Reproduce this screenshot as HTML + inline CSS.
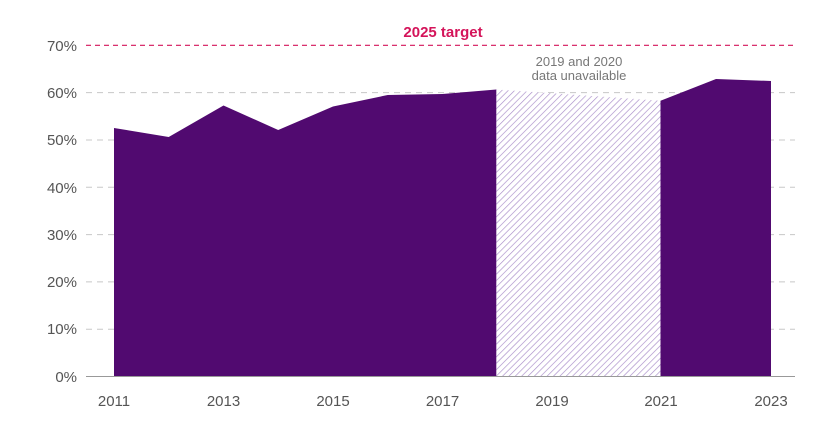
<!DOCTYPE html>
<html><head><meta charset="utf-8"><style>
html,body{margin:0;padding:0;background:#fff;}
svg{display:block;font-family:"Liberation Sans",sans-serif;}
</style></head><body>
<svg width="840" height="433" viewBox="0 0 840 433">
<defs>
<pattern id="h" patternUnits="userSpaceOnUse" width="4.5" height="4.5" patternTransform="rotate(45)">
<rect width="4.5" height="4.5" fill="#fff"/>
<line x1="0" y1="0" x2="0" y2="4.5" stroke="#a88cc9" stroke-width="1.3"/>
</pattern>
</defs>
<g stroke="#c8c8c8" stroke-width="1" stroke-dasharray="6,5">
<line x1="86" x2="795" y1="92.6" y2="92.6"/>
<line x1="86" x2="795" y1="140" y2="140"/>
<line x1="86" x2="795" y1="187.3" y2="187.3"/>
<line x1="86" x2="795" y1="234.6" y2="234.6"/>
<line x1="86" x2="795" y1="281.9" y2="281.9"/>
<line x1="86" x2="795" y1="329.2" y2="329.2"/>
</g>
<line x1="86" x2="795" y1="45.3" y2="45.3" stroke="#d4145a" stroke-width="1.2" stroke-dasharray="5,4"/>
<text x="443" y="37" fill="#d4145a" font-size="15" font-weight="bold" text-anchor="middle">2025 target</text>
<polygon fill="url(#h)" points="496.3,89.5 660.5,100.7 660.5,376.5 496.3,376.5"/>
<polygon fill="#510a70" points="114,128 168.7,137 223.5,105.5 278.2,130 333,106.5 387.7,95 442.5,94 496.3,89.5 496.3,376.5 114,376.5"/>
<polygon fill="#510a70" points="660.5,100.7 716,79 771,81 771,376.5 660.5,376.5"/>
<line x1="86" x2="795" y1="376.5" y2="376.5" stroke="#999" stroke-width="1"/>
<g fill="#555" font-size="15" text-anchor="end">
<text x="77" y="51">70%</text>
<text x="77" y="98">60%</text>
<text x="77" y="145">50%</text>
<text x="77" y="193">40%</text>
<text x="77" y="240">30%</text>
<text x="77" y="287">20%</text>
<text x="77" y="334">10%</text>
<text x="77" y="382">0%</text>
</g>
<g fill="#555" font-size="15" text-anchor="middle">
<text x="114" y="406">2011</text>
<text x="223.5" y="406">2013</text>
<text x="333" y="406">2015</text>
<text x="442.5" y="406">2017</text>
<text x="552" y="406">2019</text>
<text x="661" y="406">2021</text>
<text x="771" y="406">2023</text>
</g>
<g fill="#777" font-size="13" text-anchor="middle">
<text x="579" y="66">2019 and 2020</text>
<text x="579" y="80">data unavailable</text>
</g>
</svg>
</body></html>
